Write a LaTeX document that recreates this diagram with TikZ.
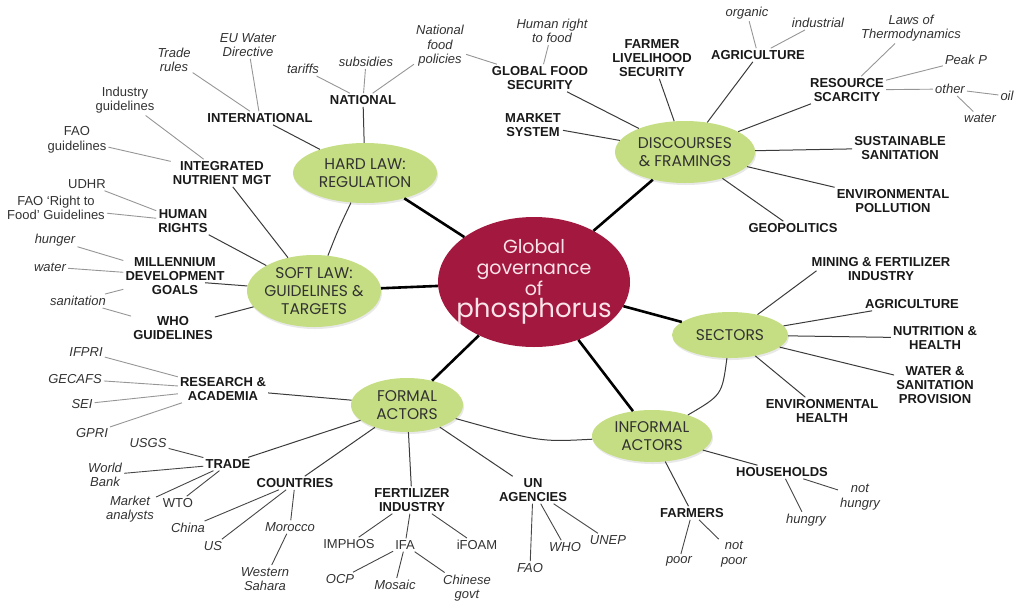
\documentclass[tikz,border=0pt]{standalone}
\usepackage{fontspec}
\setmainfont{Liberation Sans}
\newfontfamily\gothicfont{Poppins}
\usetikzlibrary{shapes.geometric,shadows}
\definecolor{hubred}{RGB}{163,24,62}
\definecolor{hubtext}{RGB}{250,228,234}
\definecolor{leafgreen}{RGB}{197,222,131}
\definecolor{inkblack}{RGB}{25,25,25}
\definecolor{itemgray}{RGB}{50,50,50}
\definecolor{twiglight}{RGB}{150,150,150}
\definecolor{twigdark}{RGB}{70,70,70}

\begin{document}
\begin{tikzpicture}[
    x=1pt, y=-1pt,
    hub/.style={ellipse, fill=hubred, text=hubtext, inner sep=-60pt, minimum width=192pt, minimum height=130pt, align=center, font=\gothicfont\fontsize{19}{21}\selectfont},
    cat/.style={ellipse, fill=leafgreen, inner sep=-50pt, align=center, text=itemgray, font=\gothicfont\fontsize{15.5}{18}\selectfont, drop shadow={opacity=0.18, shadow xshift=1pt, shadow yshift=-2pt}},
    topic/.style={align=center, inner sep=2pt, text=inkblack, font=\bfseries\fontsize{13}{14}\selectfont},
    item/.style={align=center, inner sep=2pt, text=itemgray, font=\itshape\fontsize{13}{14.5}\selectfont},
    note/.style={align=center, inner sep=2pt, text=itemgray, font=\fontsize{13}{14.5}\selectfont},
    spoke/.style={line width=2.6pt, black},
    branch/.style={line width=1pt, inkblack!85},
    twig/.style={line width=0.9pt, twiglight},
    twigd/.style={line width=0.9pt, twigdark}
  ]
    \useasboundingbox (0,0) rectangle (1022,603);

    % hub and the six green themes
    \node[hub] (hub) at (534,282) {Global\\governance\\of\\[1pt]{\fontsize{26}{28}\selectfont phosphorus}};
    \node[cat, minimum width=144pt, minimum height=60pt] (hard) at (365,173) {HARD LAW:\\REGULATION};
    \node[cat, minimum width=134pt, minimum height=72pt] (soft) at (314,291) {SOFT LAW:\\GUIDELINES \&\\TARGETS};
    \node[cat, minimum width=140pt, minimum height=62pt] (disc) at (685,152) {DISCOURSES\\\& FRAMINGS};
    \node[cat, minimum width=116pt, minimum height=46pt] (sect) at (730,335) {SECTORS};
    \node[cat, minimum width=112pt, minimum height=54pt] (formal) at (407,405) {FORMAL\\ACTORS};
    \node[cat, minimum width=120pt, minimum height=52pt] (informal) at (652,436) {INFORMAL\\ACTORS};

    \draw[spoke] (hub) -- (hard);
    \draw[spoke] (hub) -- (soft);
    \draw[spoke] (hub) -- (disc);
    \draw[spoke] (hub) -- (sect);
    \draw[spoke] (hub) -- (formal);
    \draw[spoke] (hub) -- (informal);
    \draw[branch] (hard) .. controls (338,230) .. (soft);
    \draw[branch] (sect) .. controls (722,395) .. (informal);
    \draw[branch] (formal) .. controls (540,442) .. (informal);

    % hard law
    \node[topic] (intl) at (260,118) {INTERNATIONAL};
    \node[topic] (natl) at (363,100) {NATIONAL};
    \node[item] (trules) at (174,60) {Trade\\rules};
    \node[item] (euwd) at (248,45) {EU Water\\Directive};
    \node[item] (tariffs) at (303,69) {tariffs};
    \node[item] (subs) at (366,62) {subsidies};
    \node[item] (nfp) at (440,46) {National\\food\\policies};
    \draw[branch] (intl) -- (hard);
    \draw[branch] (natl) -- (hard);
    \draw[twig] (trules) -- (intl);
    \draw[twig] (euwd) -- (intl);
    \draw[twig] (tariffs) -- (natl);
    \draw[twig] (subs) -- (natl);
    \draw[twig] (nfp) -- (natl);

    % soft law
    \node[topic] (inm) at (222,173) {INTEGRATED\\NUTRIENT MGT};
    \node[topic] (hr) at (183,221) {HUMAN\\RIGHTS};
    \node[topic] (mdg) at (175,276) {MILLENNIUM\\DEVELOPMENT\\GOALS};
    \node[topic] (who) at (173,328) {WHO\\GUIDELINES};
    \node[note] (indg) at (125,100) {Industry\\guidelines};
    \node[note] (faog) at (77,140) {FAO\\guidelines};
    \node[note] (udhr) at (87,184) {UDHR};
    \node[note] (faorf) at (56,208) {FAO ‘Right to\\Food’ Guidelines};
    \node[item] (hunger) at (55,240) {hunger};
    \node[item] (water) at (50,267) {water};
    \node[item] (sanit) at (78,301) {sanitation};
    \draw[branch] (inm) -- (soft);
    \draw[branch] (hr) -- (soft);
    \draw[branch] ([xshift=30pt,yshift=14pt]mdg.south) -- (soft);
    \draw[branch] (who) -- (soft);
    \draw[twig] (indg) -- (inm);
    \draw[twig] (faog) -- (inm);
    \draw[twig] (udhr) -- (hr);
    \draw[twig] (faorf) -- (hr);
    \draw[twig] (hunger) -- (mdg);
    \draw[twig] (water) -- (mdg);
    \draw[twig] (sanit) -- (mdg);
    \draw[twig] (sanit) -- (who);

    % discourses and framings
    \node[topic] (gfs) at (540,78) {GLOBAL FOOD\\SECURITY};
    \node[topic] (fls) at (652,58) {FARMER\\LIVELIHOOD\\SECURITY};
    \node[topic] (mkt) at (533,125) {MARKET\\SYSTEM};
    \node[topic] (agri) at (758,55) {AGRICULTURE};
    \node[topic] (res) at (847,90) {RESOURCE\\SCARCITY};
    \node[topic] (ssan) at (900,148) {SUSTAINABLE\\SANITATION};
    \node[topic] (envp) at (893,201) {ENVIRONMENTAL\\POLLUTION};
    \node[topic] (geo) at (793,228) {GEOPOLITICS};
    \node[item] (hrf) at (552,31) {Human right\\to food};
    \node[item] (organic) at (747,13) {organic};
    \node[item] (industrial) at (818,23) {industrial};
    \node[item] (laws) at (911,28) {Laws of\\Thermodynamics};
    \node[item] (peakp) at (966,60) {Peak P};
    \node[item] (other) at (950,89) {other};
    \node[item] (oil) at (1007,96) {oil};
    \node[item] (water2) at (980,118) {water};
    \draw[branch] (gfs) -- (disc);
    \draw[branch] (fls) -- (disc);
    \draw[branch] (mkt) -- (disc);
    \draw[branch] (agri) -- (disc);
    \draw[branch] (res) -- (disc);
    \draw[branch] (ssan) -- (disc);
    \draw[branch] (envp) -- (disc);
    \draw[branch] (geo) -- (disc);
    \draw[twig] (nfp) -- (gfs);
    \draw[twig] (hrf) -- (gfs);
    \draw[twig] (organic) -- (agri);
    \draw[twig] (industrial) -- (agri);
    \draw[twig] (laws) -- (res);
    \draw[twig] (peakp) -- (res);
    \draw[twig] (other) -- (res);
    \draw[twig] (other) -- (oil);
    \draw[twig] (other) -- (water2);

    % sectors
    \node[topic] (mining) at (881,269) {MINING \& FERTILIZER\\INDUSTRY};
    \node[topic] (sagri) at (912,304) {AGRICULTURE};
    \node[topic] (nutr) at (935,338) {NUTRITION \&\\HEALTH};
    \node[topic] (wsp) at (935,385) {WATER \&\\SANITATION\\PROVISION};
    \node[topic] (envh) at (822,411) {ENVIRONMENTAL\\HEALTH};
    \draw[branch] ([xshift=7pt,yshift=12pt]mining.south west) -- (sect);
    \draw[branch] (sagri) -- (sect);
    \draw[branch] (nutr) -- (sect);
    \draw[branch] (wsp) -- (sect);
    \draw[branch] (envh) -- (sect);

    % formal actors
    \node[topic] (resac) at (223,389) {RESEARCH \&\\ACADEMIA};
    \node[topic] (trade) at (228,464) {TRADE};
    \node[topic] (ctry) at (295,483) {COUNTRIES};
    \node[topic] (fert) at (412,500) {FERTILIZER\\INDUSTRY};
    \node[topic] (un) at (533,490) {UN\\AGENCIES};
    \node[item] (ifpri) at (86,352) {IFPRI};
    \node[item] (gecafs) at (75,379) {GECAFS};
    \node[item] (sei) at (82,404) {SEI};
    \node[item] (gpri) at (92,433) {GPRI};
    \node[item] (usgs) at (148,443) {USGS};
    \node[item] (wb) at (105,475) {World\\Bank};
    \node[item] (mkta) at (130,509) {Market\\analysts};
    \node[note] (wto) at (178,503) {WTO};
    \node[item] (china) at (188,528) {China};
    \node[item] (us) at (213,546) {US};
    \node[item] (morocco) at (290,527) {Morocco};
    \node[item] (wsahara) at (265,579) {Western\\Sahara};
    \node[note] (imphos) at (349,544) {IMPHOS};
    \node[note] (ifa) at (405,545) {IFA};
    \node[note] (ifoam) at (477,545) {iFOAM};
    \node[item] (ocp) at (340,579) {OCP};
    \node[item] (mosaic) at (395,585) {Mosaic};
    \node[item] (cgovt) at (467,588) {Chinese\\govt};
    \node[item] (fao) at (530,568) {FAO};
    \node[item] (whoag) at (565,547) {WHO};
    \node[item] (unep) at (608,540) {UNEP};
    \draw[branch] (resac) -- (formal);
    \draw[branch] (trade) -- (formal);
    \draw[branch] (ctry) -- (formal);
    \draw[branch] (fert) -- (formal);
    \draw[branch] (un) -- (formal);
    \draw[twig] (ifpri) -- (resac);
    \draw[twig] (gecafs) -- (resac);
    \draw[twig] (sei) -- (resac);
    \draw[twig] (gpri) -- (resac);
    \draw[twigd] (usgs) -- (trade);
    \draw[twigd] (wb) -- (trade);
    \draw[twigd] (mkta) -- (trade);
    \draw[twigd] (wto) -- (trade);
    \draw[twigd] (china) -- (ctry);
    \draw[twigd] (us) -- (ctry);
    \draw[twigd] (morocco) -- (ctry);
    \draw[twigd] (wsahara) -- (morocco);
    \draw[twigd] (imphos) -- (fert);
    \draw[twigd] (ifa) -- (fert);
    \draw[twigd] (ifoam) -- (fert);
    \draw[twigd] (ocp) -- (ifa);
    \draw[twigd] (mosaic) -- (ifa);
    \draw[twigd] (cgovt) -- (ifa);
    \draw[twigd] (fao) -- (un);
    \draw[twigd] (whoag) -- (un);
    \draw[twigd] (unep) -- (un);

    % informal actors
    \node[topic] (hh) at (782,472) {HOUSEHOLDS};
    \node[topic] (farm) at (692,513) {FARMERS};
    \node[item] (hungry) at (806,520) {hungry};
    \node[item] (nothungry) at (860,497) {not\\hungry};
    \node[item] (poor) at (679,561) {poor};
    \node[item] (notpoor) at (734,554) {not\\poor};
    \draw[branch] (hh) -- (informal);
    \draw[branch] (farm) -- (informal);
    \draw[twigd] (hungry) -- (hh);
    \draw[twigd] (nothungry) -- (hh);
    \draw[twigd] (poor) -- (farm);
    \draw[twigd] (notpoor) -- (farm);
  \end{tikzpicture}
\end{document}
